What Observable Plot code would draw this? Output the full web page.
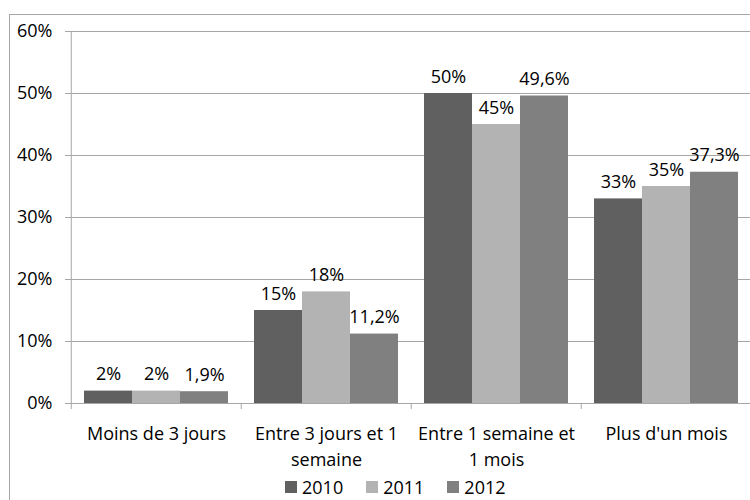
<!DOCTYPE html>
<html><head><meta charset="utf-8">
<script src="https://cdn.jsdelivr.net/npm/d3@7"></script>
<script src="https://cdn.jsdelivr.net/npm/@observablehq/plot@0.6"></script>
<style>
body{margin:0;background:#fff;font-family:"Open Sans";}
#wrap{position:relative;width:750px;height:500px;overflow:hidden;background:#fff;}
#border{position:absolute;left:9px;top:14px;width:800px;height:600px;border:1px solid #a6a6a6;box-sizing:border-box;}
#chart{position:absolute;left:0;top:0;}
#legend{position:absolute;left:285px;top:475px;display:flex;align-items:center;font-size:18px;line-height:24px;color:#000;}
.item{display:flex;align-items:center;margin-right:23px;}
.sw{width:12px;height:12px;margin-right:5px;}
</style>
</head><body>
<div id="wrap"><div id="border"></div><div id="chart"></div><div id="legend"></div></div>
<script>
const categories = ["Moins de 3 jours", "Entre 3 jours et 1\nsemaine", "Entre 1 semaine et\n1 mois", "Plus d'un mois"];
const years = ["2010", "2011", "2012"];
const values2010 = [2, 15, 50, 33];
const values2011 = [2, 18, 45, 35];
const values2012 = [1.9, 11.2, 49.6, 37.3];
const colors = ["#606060", "#b3b3b3", "#808080"];
const yTicks = [0, 10, 20, 30, 40, 50, 60];

const series = [values2010, values2011, values2012];
const data = [];
categories.forEach((c, i) => years.forEach((y, j) => data.push({category: c, year: y, value: series[j][i]})));
const fmt = d => String(d).replace(".", ",") + "%";

const fxRange = [70, 752];
const halfBand = (fxRange[1] - fxRange[0]) / categories.length / 2;
const gray = "#a6a6a6";
const font = "Open Sans";

const chart = Plot.plot({
  width: 750,
  height: 474,
  marginLeft: 70,
  marginRight: 0,
  marginTop: 31,
  marginBottom: 71,
  style: {fontFamily: font, fontSize: "18px", color: "#000", background: "transparent", overflow: "visible"},
  fx: {domain: categories, range: fxRange, padding: 0, axis: null, label: null},
  x: {domain: years, paddingInner: 0, paddingOuter: 0.25, axis: null},
  y: {domain: [0, 60], axis: null},
  color: {domain: years, range: colors},
  marks: [
    Plot.gridY(yTicks, {stroke: gray, strokeOpacity: 1}),
    Plot.gridFx({ticks: [categories[0]], stroke: gray, strokeOpacity: 1, dx: -halfBand}),
    Plot.axisFx({anchor: "bottom", tickSize: 6, tickFormat: () => "", stroke: gray, dx: -halfBand, label: null}),
    Plot.axisFx({anchor: "bottom", tickSize: 0, tickPadding: 19, fontSize: 18, lineHeight: 1.4, fill: "#000", label: null}),
    Plot.axisY(yTicks, {tickSize: 6, tickPadding: 13, tickFormat: d => d + "%", stroke: gray, fill: "#000", fontSize: 18, label: null}),
    Plot.barY(data, {fx: "category", x: "year", y: "value", fill: "year"}),
    Plot.text(data, {fx: "category", x: "year", y: "value", text: d => fmt(d.value), lineAnchor: "bottom", dy: -11, fill: "#000", fontSize: 18})
  ]
});
document.getElementById("chart").appendChild(chart);

const legend = document.getElementById("legend");
years.forEach((y, j) => {
  const item = document.createElement("div");
  item.className = "item";
  const sw = document.createElement("div");
  sw.className = "sw";
  sw.style.background = colors[j];
  const t = document.createElement("span");
  t.textContent = y;
  item.appendChild(sw);
  item.appendChild(t);
  legend.appendChild(item);
});
</script>
</body></html>
